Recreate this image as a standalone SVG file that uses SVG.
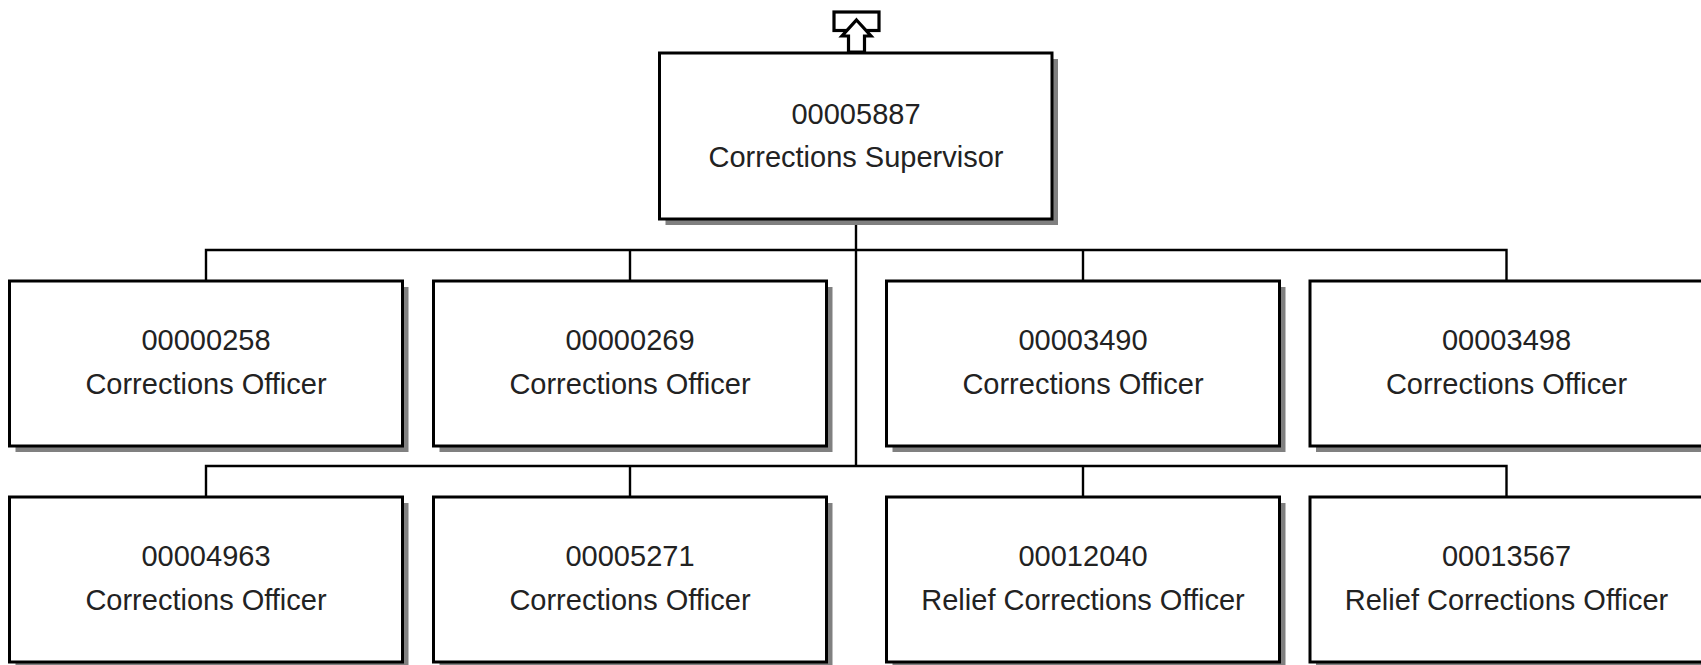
<svg xmlns="http://www.w3.org/2000/svg" width="1701" height="665" viewBox="0 0 1701 665">
<style>
.shadow{fill:#808080;stroke:none}
.box{fill:#ffffff;stroke:#000000;stroke-width:3}
.conn{fill:none;stroke:#000000;stroke-width:2.4}
.t{font-family:"Liberation Sans",Arial,sans-serif;font-size:29px;fill:#222222;text-anchor:middle}
.icon{fill:#ffffff;stroke:#000000;stroke-width:3.2;stroke-linejoin:miter}
</style>
<rect x="0" y="0" width="1701" height="665" fill="#ffffff"/>
<g id="connectors">
<path class="conn" d="M856 219 V466"/>
<path class="conn" d="M206 281 V250 H1506.5 V281"/>
<path class="conn" d="M630 250 V281"/>
<path class="conn" d="M1083 250 V281"/>
<path class="conn" d="M206 497 V466 H1506.5 V497"/>
<path class="conn" d="M630 466 V497"/>
<path class="conn" d="M1083 466 V497"/>
</g>
<g id="up-icon">
<rect class="icon" x="834" y="12" width="45" height="18.5"/>
<polygon class="icon" points="856.5,20 871,36 864.5,36 864.5,52 848.5,52 848.5,36 842,36"/>
</g>
<g id="n00005887">
<rect class="shadow" x="665.5" y="59" width="392.5" height="166"/>
<rect class="box" x="659.5" y="53" width="392.5" height="166"/>
<text class="t" x="856" y="124">00005887</text>
<text class="t" x="856" y="167">Corrections Supervisor</text>
</g>
<g id="n00000258">
<rect class="shadow" x="15.5" y="287" width="393" height="165"/>
<rect class="box" x="9.5" y="281" width="393" height="165"/>
<text class="t" x="206" y="350">00000258</text>
<text class="t" x="206" y="394">Corrections Officer</text>
</g>
<g id="n00000269">
<rect class="shadow" x="439.5" y="287" width="393" height="165"/>
<rect class="box" x="433.5" y="281" width="393" height="165"/>
<text class="t" x="630" y="350">00000269</text>
<text class="t" x="630" y="394">Corrections Officer</text>
</g>
<g id="n00003490">
<rect class="shadow" x="892.5" y="287" width="393" height="165"/>
<rect class="box" x="886.5" y="281" width="393" height="165"/>
<text class="t" x="1083" y="350">00003490</text>
<text class="t" x="1083" y="394">Corrections Officer</text>
</g>
<g id="n00003498">
<rect class="shadow" x="1316" y="287" width="393" height="165"/>
<rect class="box" x="1310" y="281" width="393" height="165"/>
<text class="t" x="1506.5" y="350">00003498</text>
<text class="t" x="1506.5" y="394">Corrections Officer</text>
</g>
<g id="n00004963">
<rect class="shadow" x="15.5" y="503" width="393" height="165"/>
<rect class="box" x="9.5" y="497" width="393" height="165"/>
<text class="t" x="206" y="566">00004963</text>
<text class="t" x="206" y="610">Corrections Officer</text>
</g>
<g id="n00005271">
<rect class="shadow" x="439.5" y="503" width="393" height="165"/>
<rect class="box" x="433.5" y="497" width="393" height="165"/>
<text class="t" x="630" y="566">00005271</text>
<text class="t" x="630" y="610">Corrections Officer</text>
</g>
<g id="n00012040">
<rect class="shadow" x="892.5" y="503" width="393" height="165"/>
<rect class="box" x="886.5" y="497" width="393" height="165"/>
<text class="t" x="1083" y="566">00012040</text>
<text class="t" x="1083" y="610">Relief Corrections Officer</text>
</g>
<g id="n00013567">
<rect class="shadow" x="1316" y="503" width="393" height="165"/>
<rect class="box" x="1310" y="497" width="393" height="165"/>
<text class="t" x="1506.5" y="566">00013567</text>
<text class="t" x="1506.5" y="610">Relief Corrections Officer</text>
</g>
</svg>
